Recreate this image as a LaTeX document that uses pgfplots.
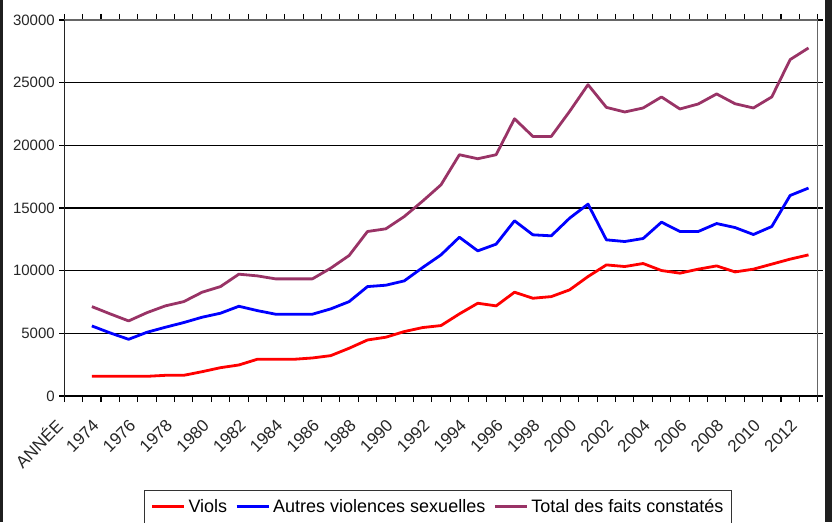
\documentclass[border=0pt]{standalone}
\usepackage{fontspec}
\setmainfont{Liberation Sans}
\usepackage{pgfplots}
\pgfplotsset{compat=1.18}
\definecolor{cviol}{RGB}{255,0,0}
\definecolor{cautres}{RGB}{0,0,255}
\definecolor{ctotal}{RGB}{153,51,102}

\pgfplotstableread{
year viols autres total
1973 1570 5590 7133
1974 1570 5030 6550
1975 1570 4525 5990
1976 1570 5085 6650
1977 1650 5485 7190
1978 1650 5860 7530
1979 1940 6285 8280
1980 2260 6605 8730
1981 2475 7160 9720
1982 2930 6815 9585
1983 2930 6525 9345
1984 2930 6525 9345
1985 3035 6525 9345
1986 3220 6950 10200
1987 3810 7530 11210
1988 4470 8730 13125
1989 4690 8840 13340
1990 5140 9185 14320
1991 5460 10250 15550
1992 5620 11260 16850
1993 6550 12670 19250
1994 7400 11580 18930
1995 7190 12115 19250
1996 8280 13980 22120
1997 7800 12860 20710
1998 7930 12780 20710
1999 8470 14190 22710
2000 9530 15310 24840
2001 10460 12460 23030
2002 10330 12325 22660
2003 10570 12565 22980
2004 10010 13870 23860
2005 9800 13125 22900
2006 10120 13125 23300
2007 10380 13760 24100
2008 9900 13440 23320
2009 10120 12885 22980
2010 10520 13520 23860
2011 10920 16000 26840
2012 11260 16590 27770
}\datatable

\begin{document}
\begin{tikzpicture}[x=1pt,y=1pt]
\path[use as bounding box] (0,0) rectangle (832,522);
\fill[black!88] (0,0) rectangle (3,522);
\fill[black!88] (825,0) rectangle (832,522);
\begin{axis}[
  at={(64.3pt,126pt)}, anchor=south west,
  scale only axis, width=753.4pt, height=376pt,
  xmin=1971.5, xmax=2012.5, ymin=0, ymax=30000,
  xtick={1972,1974,...,2012},
  xticklabels={ANNÉE,1974,1976,1978,1980,1982,1984,1986,1988,1990,1992,1994,1996,1998,2000,2002,2004,2006,2008,2010,2012},
  minor xtick={1971.5,1972.5,...,2012.5},
  every major x tick/.append style={draw=none},
  every minor x tick/.append style={black, line width=1.1pt},
  minor tick length=6pt,
  major tick length=5pt,
  tick align=outside,
  ytick={0,5000,...,30000},
  every major y tick/.append style={black, line width=1.1pt},
  scaled y ticks=false,
  /pgf/number format/.cd, 1000 sep={}, assume math mode=true, /pgfplots/.cd,
  yticklabel style={font=\fontsize{15}{18}\selectfont, text=black!85, xshift=-1pt},
  xticklabel style={font=\fontsize{17}{20}\selectfont, text=black!85,
    xshift=-12pt, yshift=-19pt, rotate=45, anchor=east},
  ymajorgrids, grid style={black, line width=1.2pt},
  axis line style={black!60, line width=1.2pt},
  legend columns=3,
  legend style={at={(0.1058,-0.25)}, anchor=north west,
    font=\fontsize{18}{21}\selectfont, draw=black!80, line width=1pt,
    inner xsep=6pt, inner ysep=7pt,
    /tikz/every even column/.append style={column sep=6pt},
    /tikz/every odd column/.append style={column sep=1pt}},
  legend image code/.code={\draw[#1, line width=3pt] (0pt,0pt) -- (32pt,0pt);},
]
\addplot[cviol, line width=2.8pt, line join=round] table[x=year, y=viols] {\datatable};
\addlegendentry{Viols}
\addplot[cautres, line width=2.8pt, line join=round] table[x=year, y=autres] {\datatable};
\addlegendentry{Autres violences sexuelles}
\addplot[ctotal, line width=2.8pt, line join=round] table[x=year, y=total] {\datatable};
\addlegendentry{Total des faits constatés}
\draw[black, line width=1.2pt] (rel axis cs:0,1) -- (rel axis cs:0,0) -- (rel axis cs:1,0);
\end{axis}
\end{tikzpicture}
\end{document}
